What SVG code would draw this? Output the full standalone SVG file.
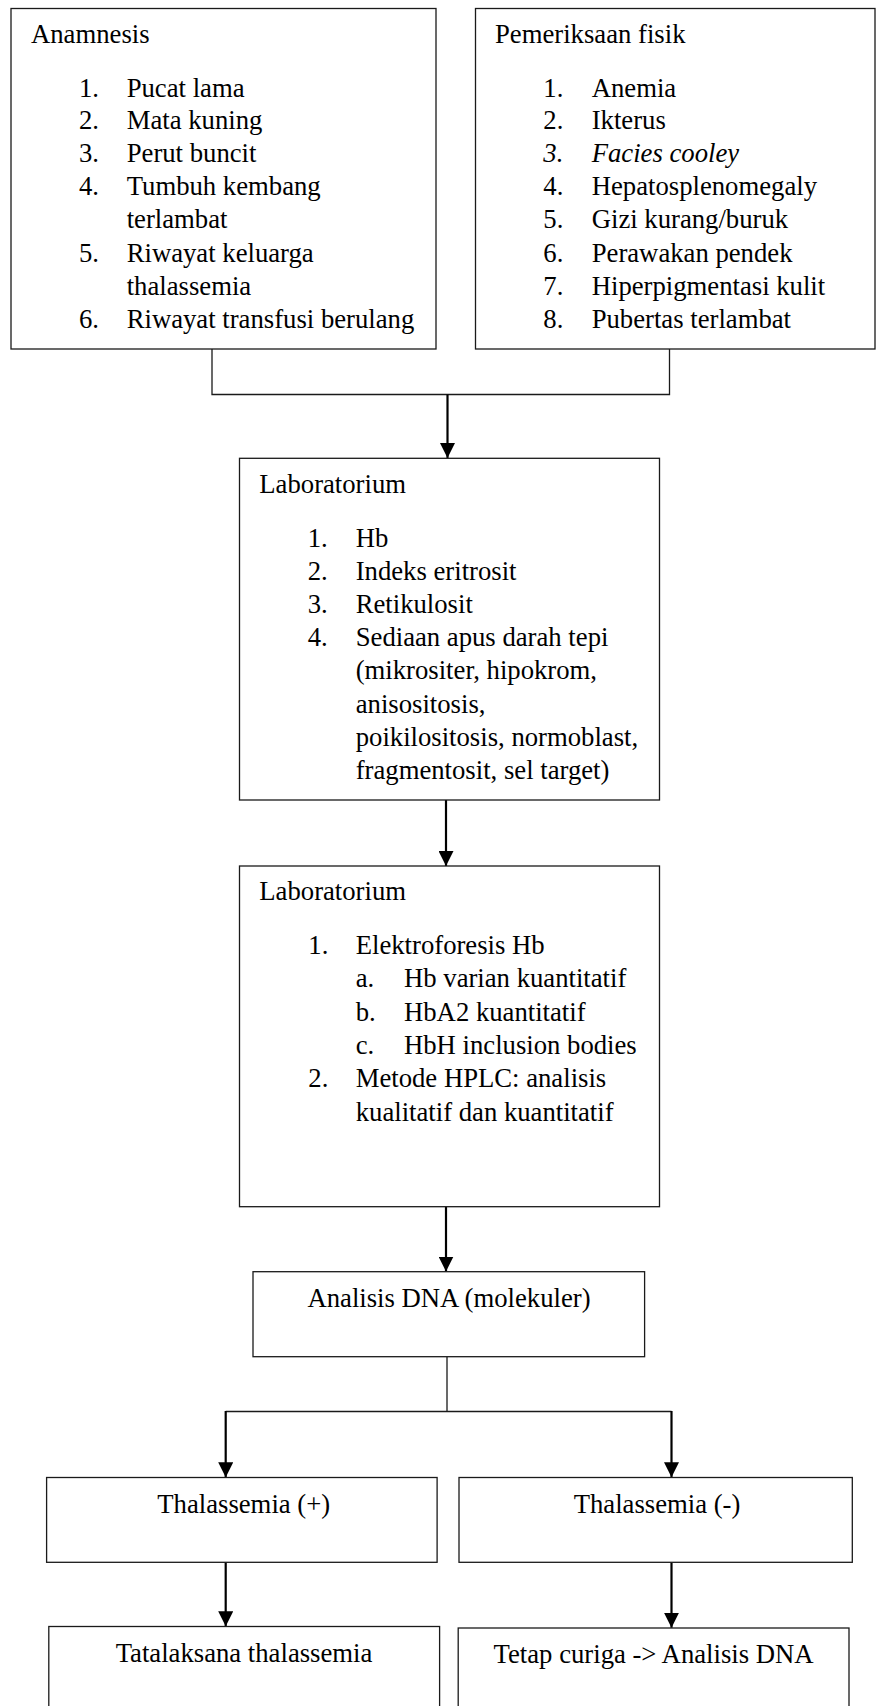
<svg xmlns="http://www.w3.org/2000/svg" width="876" height="1706" viewBox="0 0 876 1706">
<style>
.box{fill:#fff;stroke:#1a1a1a;stroke-width:1.3}
.ln{fill:none;stroke:#1a1a1a;stroke-width:1.3}
.ar{fill:none;stroke:#000;stroke-width:2.2}
.t{font-family:"Liberation Serif","Times New Roman",serif;font-size:26.7px;fill:#000}
.c{text-anchor:middle}
.i{font-style:italic}
</style>
<defs>
<marker id="ah" markerUnits="userSpaceOnUse" viewBox="0 0 15 15" refX="15" refY="7.5" markerWidth="15" markerHeight="15" orient="auto">
<path d="M0,0 L15,7.5 L0,15 z" fill="#000"/>
</marker>
</defs>
<rect width="876" height="1706" fill="#fff"/>
<g id="connectors">
<path class="ln" d="M212,349 V394.5 H669.5 V349"/>
<line class="ar" x1="447.5" y1="394.5" x2="447.5" y2="458" marker-end="url(#ah)"/>
<line class="ar" x1="446" y1="800" x2="446" y2="866" marker-end="url(#ah)"/>
<line class="ar" x1="446" y1="1206.7" x2="446" y2="1271.5" marker-end="url(#ah)"/>
<path class="ln" d="M447,1356.7 V1411.5 M225.7,1411.5 H671.5"/>
<line class="ar" x1="225.7" y1="1411" x2="225.7" y2="1477.3" marker-end="url(#ah)"/>
<line class="ar" x1="671.5" y1="1411" x2="671.5" y2="1477.3" marker-end="url(#ah)"/>
<line class="ar" x1="225.7" y1="1562.3" x2="225.7" y2="1626.3" marker-end="url(#ah)"/>
<line class="ar" x1="671.5" y1="1562.3" x2="671.5" y2="1627.8" marker-end="url(#ah)"/>
</g>
<g id="anamnesis">
<rect class="box" x="11" y="8.5" width="425" height="340.5"/>
<text class="t" x="31" y="42.7">Anamnesis</text>
<text class="t" x="79" y="96.7">1.</text><text class="t" x="126.7" y="96.7">Pucat lama</text>
<text class="t" x="79" y="129.3">2.</text><text class="t" x="126.7" y="129.3">Mata kuning</text>
<text class="t" x="79" y="162.3">3.</text><text class="t" x="126.7" y="162.3">Perut buncit</text>
<text class="t" x="79" y="195">4.</text><text class="t" x="126.7" y="195">Tumbuh kembang</text>
<text class="t" x="126.7" y="228.3">terlambat</text>
<text class="t" x="79" y="261.7">5.</text><text class="t" x="126.7" y="261.7">Riwayat keluarga</text>
<text class="t" x="126.7" y="295">thalassemia</text>
<text class="t" x="79" y="328.3">6.</text><text class="t" x="126.7" y="328.3">Riwayat transfusi berulang</text>
</g>
<g id="pemeriksaan">
<rect class="box" x="475.5" y="8.5" width="399.5" height="340.5"/>
<text class="t" x="495" y="42.7">Pemeriksaan fisik</text>
<text class="t" x="543.3" y="96.7">1.</text><text class="t" x="591.7" y="96.7">Anemia</text>
<text class="t" x="543.3" y="129.3">2.</text><text class="t" x="591.7" y="129.3">Ikterus</text>
<text class="t i" x="543.3" y="162.3">3.</text><text class="t i" x="591.7" y="162.3">Facies cooley</text>
<text class="t" x="543.3" y="195">4.</text><text class="t" x="591.7" y="195">Hepatosplenomegaly</text>
<text class="t" x="543.3" y="228.3">5.</text><text class="t" x="591.7" y="228.3">Gizi kurang/buruk</text>
<text class="t" x="543.3" y="261.7">6.</text><text class="t" x="591.7" y="261.7">Perawakan pendek</text>
<text class="t" x="543.3" y="295">7.</text><text class="t" x="591.7" y="295">Hiperpigmentasi kulit</text>
<text class="t" x="543.3" y="328.3">8.</text><text class="t" x="591.7" y="328.3">Pubertas terlambat</text>
</g>
<g id="lab1">
<rect class="box" x="239.5" y="458.3" width="420" height="341.7"/>
<text class="t" x="259.3" y="493.3">Laboratorium</text>
<text class="t" x="307.7" y="546.7">1.</text><text class="t" x="355.7" y="546.7">Hb</text>
<text class="t" x="307.7" y="580">2.</text><text class="t" x="355.7" y="580">Indeks eritrosit</text>
<text class="t" x="307.7" y="613.3">3.</text><text class="t" x="355.7" y="613.3">Retikulosit</text>
<text class="t" x="307.7" y="646">4.</text><text class="t" x="355.7" y="646">Sediaan apus darah tepi</text>
<text class="t" x="355.7" y="679.3">(mikrositer, hipokrom,</text>
<text class="t" x="355.7" y="712.7">anisositosis,</text>
<text class="t" x="355.7" y="746">poikilositosis, normoblast,</text>
<text class="t" x="355.7" y="779.3">fragmentosit, sel target)</text>
</g>
<g id="lab2">
<rect class="box" x="239.5" y="866" width="420" height="340.7"/>
<text class="t" x="259.3" y="900">Laboratorium</text>
<text class="t" x="308.3" y="954">1.</text><text class="t" x="355.7" y="954">Elektroforesis Hb</text>
<text class="t" x="355.7" y="987.3">a.</text><text class="t" x="404" y="987.3">Hb varian kuantitatif</text>
<text class="t" x="355.7" y="1020.7">b.</text><text class="t" x="404" y="1020.7">HbA2 kuantitatif</text>
<text class="t" x="355.7" y="1054">c.</text><text class="t" x="404" y="1054">HbH inclusion bodies</text>
<text class="t" x="308.3" y="1087.3">2.</text><text class="t" x="355.7" y="1087.3">Metode HPLC: analisis</text>
<text class="t" x="355.7" y="1120.7">kualitatif dan kuantitatif</text>
</g>
<g id="dna">
<rect class="box" x="253" y="1271.7" width="391.6" height="85"/>
<text class="t c" x="449" y="1306.7">Analisis DNA (molekuler)</text>
</g>
<g id="thal-pos">
<rect class="box" x="46.6" y="1477.5" width="390.5" height="84.8"/>
<text class="t c" x="243.7" y="1513.3">Thalassemia (+)</text>
</g>
<g id="thal-neg">
<rect class="box" x="459" y="1477.5" width="393.3" height="84.8"/>
<text class="t c" x="657" y="1513.3">Thalassemia (-)</text>
</g>
<g id="tatalaksana">
<rect class="box" x="48.8" y="1626.5" width="390.8" height="100"/>
<text class="t c" x="244" y="1661.7">Tatalaksana thalassemia</text>
</g>
<g id="tetap-curiga">
<rect class="box" x="458.2" y="1628" width="390.8" height="100"/>
<text class="t c" x="653.6" y="1663.3">Tetap curiga -&gt; Analisis DNA</text>
</g>
</svg>
